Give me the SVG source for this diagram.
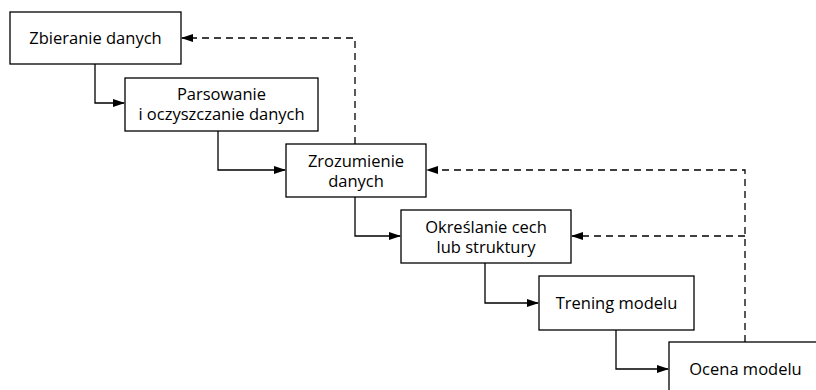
<svg xmlns="http://www.w3.org/2000/svg" width="816" height="390" viewBox="0 0 816 390">
<defs>
<marker id="arr" markerWidth="12" markerHeight="8" refX="11" refY="4" orient="auto" markerUnits="userSpaceOnUse">
<path d="M0,0 L12,4 L0,8 Z" fill="#000"/>
</marker>
<style>
.box{fill:#fff;stroke:#000;stroke-width:1.3}
.t{font-family:"Open Sans","Liberation Sans",sans-serif;font-size:16.5px;fill:#000;text-anchor:middle}
.c{fill:none;stroke:#000;stroke-width:1.3}
.d{fill:none;stroke:#000;stroke-width:1.3;stroke-dasharray:7,5}
</style>
</defs>
<rect width="816" height="390" fill="#fff"/>
<g id="connectors">
<path class="c" d="M95,64 V103 H124" marker-end="url(#arr)"/>
<path class="c" d="M218,131 V170 H285" marker-end="url(#arr)"/>
<path class="c" d="M355,197 V236 H400" marker-end="url(#arr)"/>
<path class="c" d="M485,263 V303 H538" marker-end="url(#arr)"/>
<path class="c" d="M616,330 V369 H668" marker-end="url(#arr)"/>
<path class="d" d="M355,144 V38 H182" marker-end="url(#arr)"/>
<path class="d" d="M745,342 V170 H427" marker-end="url(#arr)"/>
<path class="d" d="M745,236 H572" marker-end="url(#arr)"/>
</g>
<g id="n1"><rect class="box" x="10" y="12" width="171" height="52"/><text class="t" x="95.5" y="44">Zbieranie danych</text></g>
<g id="n2"><rect class="box" x="125" y="78" width="193" height="53"/><text class="t" x="221.5" y="100">Parsowanie</text><text class="t" x="221.5" y="120">i oczyszczanie danych</text></g>
<g id="n3"><rect class="box" x="286" y="144" width="140" height="53"/><text class="t" x="356" y="167">Zrozumienie</text><text class="t" x="356" y="187">danych</text></g>
<g id="n4"><rect class="box" x="401" y="210" width="170" height="53"/><text class="t" x="486" y="233">Określanie cech</text><text class="t" x="486" y="253">lub struktury</text></g>
<g id="n5"><rect class="box" x="539" y="276" width="155" height="54"/><text class="t" x="616.5" y="309">Trening modelu</text></g>
<g id="n6"><rect class="box" x="669" y="342" width="160" height="60"/><text class="t" x="745.5" y="375">Ocena modelu</text></g>
</svg>
